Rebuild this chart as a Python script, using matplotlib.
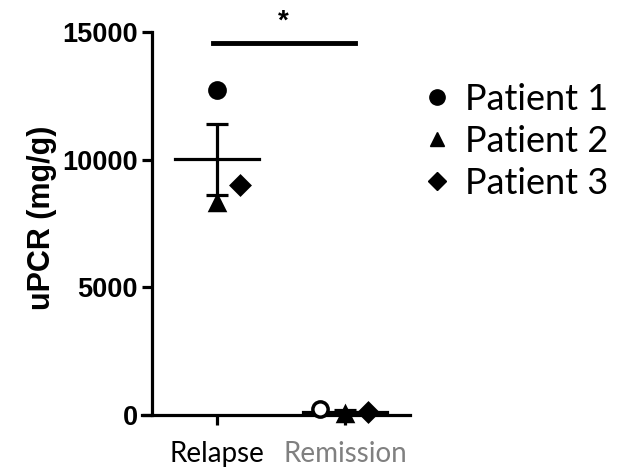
import numpy as np
import matplotlib.pyplot as plt
from matplotlib.lines import Line2D

groups = ['Relapse', 'Remission']
patients = ['Patient 1', 'Patient 2', 'Patient 3']
markers = ['o', '^', 'D']
relapse = [12730, 8300, 9000]
remission = [250, 30, 100]
jitter = [[0.0, 0.0, 0.18], [-0.195, 0.0, 0.18]]

fig = plt.figure(figsize=(6.21, 4.73), dpi=100)
ax = fig.add_axes([142/621, 58/473, 268/621, 383/473])

lw = 2.3
ms = [11, 10, 9]
for gi, vals in enumerate([relapse, remission]):
    for pi, v in enumerate(vals):
        face = 'black' if gi == 0 else 'white'
        ax.plot(gi + jitter[gi][pi], v, marker=markers[pi], ms=ms[pi],
                mfc=face if markers[pi] == 'o' else 'black', mec='black',
                mew=2.5, ls='none', zorder=3, clip_on=False)
    m = np.mean(vals)
    sem = np.std(vals, ddof=1) / np.sqrt(len(vals))
    ax.plot([gi - 0.33, gi + 0.33], [m, m], color='black', lw=lw, zorder=2)
    ax.errorbar(gi, m, yerr=sem, color='black', lw=lw, capsize=8, capthick=lw, zorder=2)

# significance bar
ax.plot([-0.03, 1.08], [14570, 14570], color='black', lw=3.5, clip_on=False)
ax.text(0.515, 14900, '*', ha='center', va='bottom', fontsize=20, fontweight='bold',
        family='Liberation Sans', clip_on=False)

ax.set_xlim(-0.586, 1.508)
ax.set_ylim(0, 15000)
ax.spines['top'].set_visible(False)
ax.spines['right'].set_visible(False)
ax.spines['left'].set_position(('data', -0.508))
ax.spines['left'].set_linewidth(lw)
ax.spines['bottom'].set_linewidth(lw)
ax.set_yticks([0, 5000, 10000, 15000])
ax.set_yticklabels(['0', '5000', '10000', '15000'], fontsize=19.5, fontweight='bold',
                   family='Liberation Sans')
ax.tick_params(axis='y', width=lw, length=7, pad=3)
ax.tick_params(axis='x', width=lw, length=7, pad=12)
ax.set_xticks([0, 1])
ax.set_xticklabels(groups, fontsize=20, family='Lato')
ax.get_xticklabels()[1].set_color('#808080')
ax.set_ylabel('uPCR (mg/g)', fontsize=22, fontweight='bold', family='Liberation Sans',
              labelpad=4)
ax.yaxis.label.set_y(0.515)

handles = [Line2D([], [], marker=mk, color='black', ls='none', ms=s)
           for mk, s in zip(markers, ms)]
fig.legend(handles, patients, loc='upper left', bbox_to_anchor=(386/621, 1 - 50/473),
           frameon=False, prop={'family': 'Lato', 'size': 26}, handletextpad=0.3,
           labelspacing=0.25, handlelength=1.0)

fig.savefig('out.png', dpi=100)
